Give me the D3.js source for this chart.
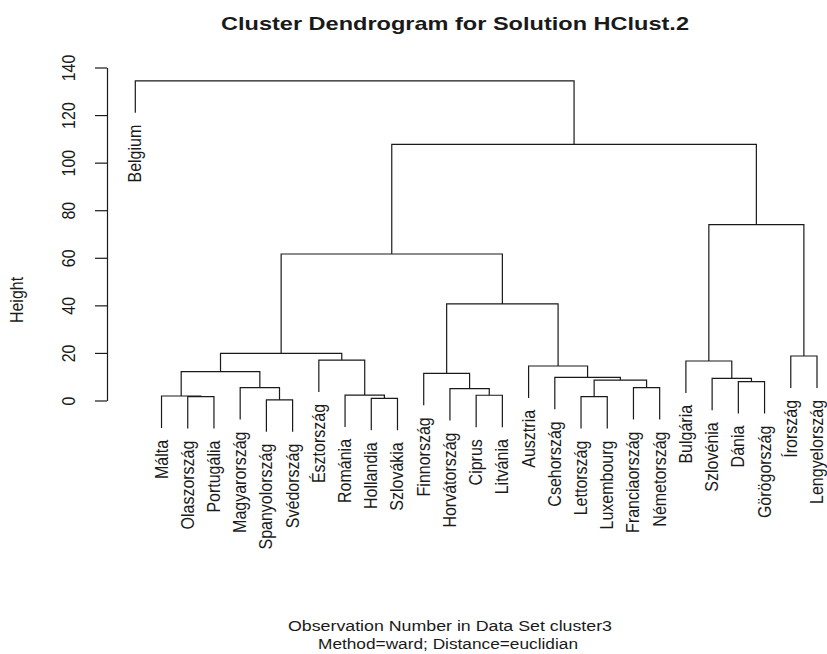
<!DOCTYPE html>
<html>
<head>
<meta charset="utf-8">
<script src="https://cdn.jsdelivr.net/npm/d3@7"></script>
<style>
  body { margin: 0; background: #fff; }
  text { font-family: "Liberation Sans", Arial, sans-serif; fill: #1a1a1a; }
</style>
</head>
<body>
<svg width="827" height="654"></svg>
<script>
// Leaves in plotted order
var labels = ["Belgium", "Málta", "Olaszország", "Portugália", "Magyarország",
  "Spanyolország", "Svédország", "Észtország", "Románia", "Hollandia", "Szlovákia",
  "Finnország", "Horvátország", "Ciprus", "Litvánia", "Ausztria", "Csehország",
  "Lettország", "Luxembourg", "Franciaország", "Németország", "Bulgária",
  "Szlovénia", "Dánia", "Görögország", "Írország", "Lengyelország"];

// merge table, R style: negative = leaf (1-based in labels), positive = earlier merge
var merges = [
  [-6, -7], [-10, -11], [-3, -4], [-18, -19], [-2, 3], [-14, -15], [-9, 2],
  [-13, 6], [-5, 1], [-20, -21], [-24, -25], [4, 10], [-23, 11], [-17, 12],
  [-12, 8], [5, 9], [-16, 14], [-22, 13], [-8, 7], [-26, -27], [16, 19],
  [15, 17], [21, 22], [18, 20], [23, 24], [-1, 25]
];
var heights = [0.3, 0.9, 1.6, 1.6, 1.9, 2.2, 2.3, 5.0, 5.4, 5.4, 7.9, 8.6, 9.3,
  9.7, 11.4, 12.1, 14.5, 16.6, 17.0, 18.7, 19.8, 40.6, 61.6, 73.9, 107.7, 134.4];

var yTicks = [0, 20, 40, 60, 80, 100, 120, 140];

var svg = d3.select("svg");

var x = d3.scaleLinear().domain([1, labels.length]).range([135.3, 817]);
var y = d3.scaleLinear().domain([0, 140]).range([400.5, 67.5]);

var hang = 0.1 * (d3.max(heights) - d3.min(heights));

// title
svg.append("text")
  .attr("x", 455).attr("y", 30)
  .attr("text-anchor", "middle")
  .attr("font-size", 19).attr("font-weight", "bold")
  .attr("textLength", 468).attr("lengthAdjust", "spacingAndGlyphs")
  .text("Cluster Dendrogram for Solution HClust.2");

// y axis
var axis = svg.append("g")
  .attr("transform", "translate(107,0)")
  .call(d3.axisLeft(y).tickValues(yTicks).tickSize(12).tickSizeOuter(0));
axis.select(".domain").attr("stroke", "#1a1a1a").attr("stroke-width", 1.2);
axis.selectAll(".tick line").attr("stroke", "#1a1a1a").attr("stroke-width", 1.2);
axis.selectAll(".tick text")
  .attr("transform", "rotate(-90) scale(1,1.15)")
  .attr("x", 0).attr("y", -28).attr("dy", 0)
  .attr("text-anchor", "middle")
  .attr("font-size", 16)
  .attr("font-family", "Liberation Sans, Arial, sans-serif")
  .attr("fill", "#1a1a1a");

svg.append("text")
  .attr("transform", "translate(23,300) rotate(-90) scale(1,1.15)")
  .attr("text-anchor", "middle")
  .attr("font-size", 16)
  .text("Height");

// dendrogram
var g = svg.append("g");
var nodeX = [];

merges.forEach(function (m, i) {
  var h = heights[i];
  var kids = m.map(function (c) {
    if (c < 0) {
      var xi = x(-c);
      var end = h - hang;
      g.append("text")
        .attr("transform", "translate(" + (xi + 6) + "," + (y(end) + 12) + ") rotate(-90) scale(1,1.15)")
        .attr("text-anchor", "end")
        .attr("font-size", 16)
        .text(labels[-c - 1]);
      return { x: xi, h: end };
    }
    return { x: nodeX[c - 1], h: heights[c - 1] };
  });
  nodeX[i] = (kids[0].x + kids[1].x) / 2;
  g.append("path")
    .attr("d", "M" + kids[0].x + "," + y(kids[0].h) +
      "V" + y(h) + "H" + kids[1].x + "V" + y(kids[1].h))
    .attr("fill", "none")
    .attr("stroke", "#1a1a1a")
    .attr("stroke-width", 1.2);
});

// subtitle
svg.append("text")
  .attr("x", 450).attr("y", 631)
  .attr("text-anchor", "middle")
  .attr("font-size", 15.5)
  .attr("textLength", 324).attr("lengthAdjust", "spacingAndGlyphs")
  .text("Observation Number in Data Set cluster3");
svg.append("text")
  .attr("x", 448).attr("y", 649)
  .attr("text-anchor", "middle")
  .attr("font-size", 15.5)
  .attr("textLength", 260).attr("lengthAdjust", "spacingAndGlyphs")
  .text("Method=ward; Distance=euclidian");
</script>
</body>
</html>
